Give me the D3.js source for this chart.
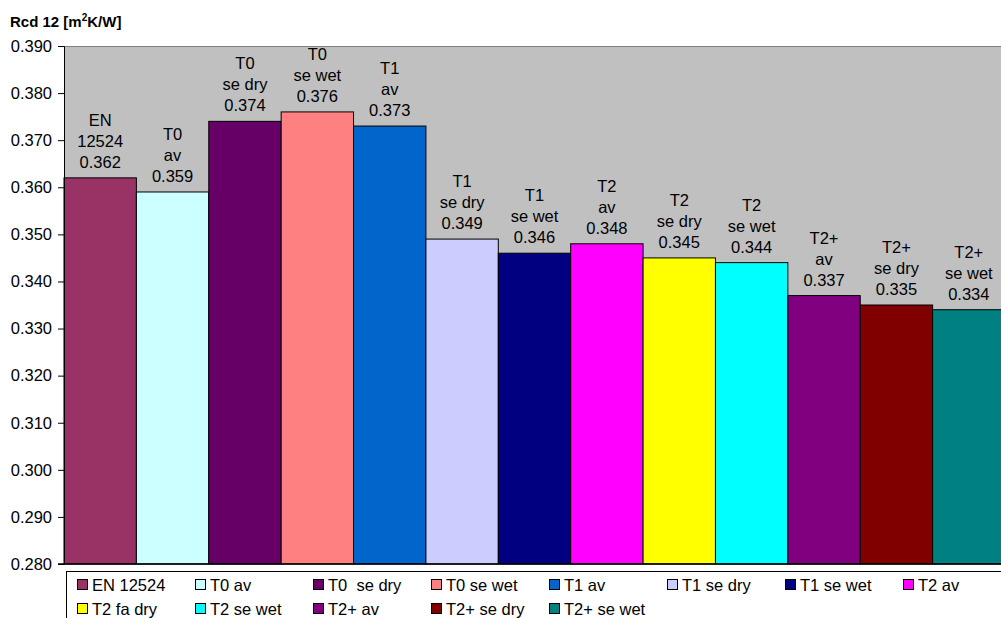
<!DOCTYPE html>
<html>
<head>
<meta charset="utf-8">
<script src="https://cdn.jsdelivr.net/npm/d3@7"></script>
<style>
  html, body { margin: 0; padding: 0; background: #fff; overflow: hidden; }
  svg { display: block; font-family: "Liberation Sans", Arial, sans-serif; }
</style>
</head>
<body>
<svg id="chart" width="1001" height="618"></svg>
<script>
// Series names (legend) and bar values
const categories = ["EN 12524", "T0 av", "T0  se dry", "T0 se wet", "T1 av", "T1 se dry", "T1 se wet",
  "T2 av", "T2 fa dry", "T2 se wet", "T2+ av", "T2+ se dry", "T2+ se wet"];
const values = [0.362, 0.359, 0.374, 0.376, 0.373, 0.349, 0.346, 0.348, 0.345, 0.344, 0.337, 0.335, 0.334];
// Data label lines shown above each bar (value appended as last line)
const barLabels = [["EN", "12524"], ["T0", "av"], ["T0", "se dry"], ["T0", "se wet"], ["T1", "av"],
  ["T1", "se dry"], ["T1", "se wet"], ["T2", "av"], ["T2", "se dry"], ["T2", "se wet"],
  ["T2+", "av"], ["T2+", "se dry"], ["T2+", "se wet"]];
const colors = ["#993366", "#CCFFFF", "#660066", "#FF8080", "#0066CC", "#CCCCFF", "#000080",
  "#FF00FF", "#FFFF00", "#00FFFF", "#800080", "#800000", "#008080"];
const yTicks = [0.280, 0.290, 0.300, 0.310, 0.320, 0.330, 0.340, 0.350, 0.360, 0.370, 0.380, 0.390];

const svg = d3.select("#chart");
const plotLeft = 64, plotRight = 1005, plotTop = 46, plotBottom = 564;
const fs = 16.5;

const x = d3.scaleBand().domain(d3.range(categories.length)).range([plotLeft, plotRight]).padding(0);
const y = d3.scaleLinear().domain([0.28, 0.39]).range([plotBottom, plotTop]);

// plot area background
svg.append("rect").attr("x", plotLeft).attr("y", plotTop)
  .attr("width", plotRight - plotLeft).attr("height", plotBottom - plotTop)
  .attr("fill", "#C0C0C0");
svg.append("line").attr("x1", plotLeft).attr("x2", plotRight)
  .attr("y1", plotTop + 0.5).attr("y2", plotTop + 0.5)
  .attr("stroke", "#808080").attr("stroke-width", 1);

// bars
svg.append("g").selectAll("rect").data(values).join("rect")
  .attr("x", (d, i) => x(i))
  .attr("y", d => y(d))
  .attr("width", x.bandwidth())
  .attr("height", d => plotBottom - y(d))
  .attr("fill", (d, i) => colors[i])
  .attr("stroke", "#000").attr("stroke-width", 1);

// data labels
const lab = svg.append("g").attr("font-size", fs).attr("fill", "#000").attr("text-anchor", "middle");
values.forEach((v, i) => {
  const lines = barLabels[i].concat([d3.format(".3f")(v)]);
  const cx = x(i) + x.bandwidth() / 2;
  const base = y(v) - 10;
  lines.forEach((t, k) => {
    lab.append("text").attr("x", cx).attr("y", base - (lines.length - 1 - k) * 21).text(t);
  });
});

// y axis
const yAxis = d3.axisLeft(y).tickValues(yTicks).tickFormat(d3.format(".3f")).tickSize(6).tickPadding(6);
const ga = svg.append("g").attr("transform", `translate(${plotLeft},0)`).call(yAxis);
ga.select(".domain").attr("stroke", "#000");
ga.selectAll(".tick line").attr("stroke", "#000");
ga.selectAll(".tick text").attr("font-size", fs).attr("fill", "#000")
  .attr("font-family", "'Liberation Sans', Arial, sans-serif");

// x axis baseline
svg.append("line").attr("x1", plotLeft - 6).attr("x2", plotRight)
  .attr("y1", plotBottom).attr("y2", plotBottom)
  .attr("stroke", "#000").attr("stroke-width", 1.5);

// axis title
const title = svg.append("text").attr("x", 10).attr("y", 27).attr("font-size", 15).attr("font-weight", "bold");
title.append("tspan").text("Rcd 12 [m");
title.append("tspan").attr("font-size", 10).attr("dy", -6).text("2");
title.append("tspan").attr("dy", 6).text("K/W]");

// legend
svg.append("rect").attr("x", 66.5).attr("y", 571.5).attr("width", 960).attr("height", 60)
  .attr("fill", "#fff").attr("stroke", "#000").attr("stroke-width", 1);
const leg = svg.append("g");
categories.forEach((c, i) => {
  const col = i % 8, row = Math.floor(i / 8);
  const lx = 77 + col * 118, ly = 585 + row * 24;
  leg.append("rect").attr("x", lx + 0.5).attr("y", ly - 5.5).attr("width", 10).attr("height", 10)
    .attr("fill", colors[i]).attr("stroke", "#000").attr("stroke-width", 1);
  leg.append("text").attr("x", lx + 15).attr("y", ly + 6).attr("font-size", fs)
    .style("white-space", "pre").text(c);
});
</script>
</body>
</html>
